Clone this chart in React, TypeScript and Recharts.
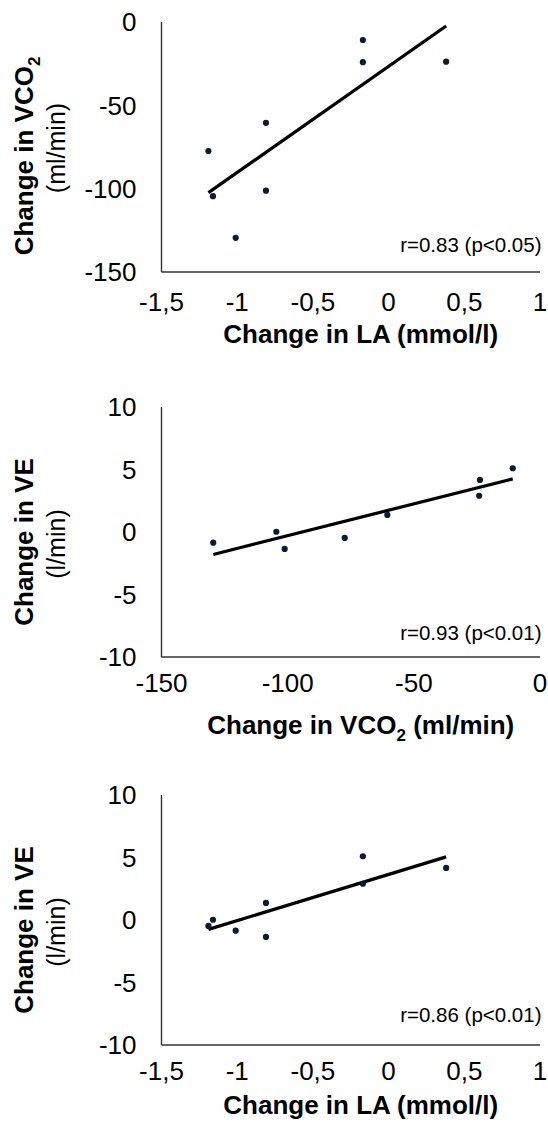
import React from "react";
import {
  Customized,
  ReferenceLine,
  Scatter,
  ScatterChart,
  XAxis,
  YAxis,
} from "recharts";

const FONT = "'Liberation Sans', Arial, sans-serif";

// per-subject changes
const laChange = [-1.19, -1.16, -1.01, -0.81, -0.81, -0.17, -0.17, 0.38];
const vco2Change = [-77.4, -104.5, -129.5, -60.5, -101.2, -10.8, -24.1, -23.8];
const veChange = [-0.47, 0.02, -0.85, 1.37, -1.35, 5.1, 2.9, 4.17];

const laTicks = [-1.5, -1, -0.5, 0, 0.5, 1];
const vco2Ticks = [-150, -100, -50, 0];
const veTicks = [-10, -5, 0, 5, 10];

// regression lines (start / end), as drawn in the figure
const fitLaVco2 = [
  { x: -1.19, y: -102.4 },
  { x: 0.38, y: -2.4 },
];
const fitVco2Ve = [
  { x: -129.5, y: -1.8 },
  { x: -10.8, y: 4.25 },
];
const fitLaVe = [
  { x: -1.19, y: -0.75 },
  { x: 0.38, y: 5.05 },
];

const stats = ["r=0.83 (p<0.05)", "r=0.93 (p<0.01)", "r=0.86 (p<0.01)"];

const pairs = (xs: number[], ys: number[]) =>
  xs.map((x, i) => ({ x, y: ys[i] }));

const comma = (v: number) => String(v).replace(".", ",");

const Dot = (props: any) => (
  <circle cx={props.cx} cy={props.cy} r={3.1} fill="#0c1a33" />
);

const Sub = ({ text, after }: { text: string; after?: string }) => (
  <>
    <tspan>{text}</tspan>
    <tspan fontSize={17} dy={7}>
      2
    </tspan>
    {after ? <tspan dy={-7}>{after}</tspan> : null}
  </>
);

type PanelProps = {
  top: number;
  height: number;
  data: { x: number; y: number }[];
  fit: { x: number; y: number }[];
  xDomain: [number, number];
  xTicks: number[];
  yDomain: [number, number];
  yTicks: number[];
  xTitle: React.ReactNode;
  yTitle: React.ReactNode;
  yUnit: string;
  stat: string;
  tickGap: number;
  titleDy: number;
  yLine1Dy: number;
  yLine2Dy: number;
  statDy: number;
};

const PLOT_TOP = 22;
const PLOT_H = 250;
const AXIS_W = 161.5;

const Panel = (p: PanelProps) => {
  const axisStyle = { stroke: "#333", strokeWidth: 1.4 };
  const tickStyle = { fill: "#000", fontSize: 26, fontFamily: FONT };
  return (
    <div style={{ position: "absolute", left: 0, top: p.top }}>
      <ScatterChart
        width={548}
        height={p.height}
        margin={{ top: PLOT_TOP, right: 8, bottom: 0, left: 0 }}
        style={{ fontFamily: FONT }}
      >
        <XAxis
          type="number"
          dataKey="x"
          domain={p.xDomain}
          ticks={p.xTicks}
          interval={0}
          height={p.height - PLOT_TOP - PLOT_H}
          tickFormatter={comma}
          tickLine={false}
          axisLine={axisStyle}
          tickMargin={p.tickGap}
          tick={tickStyle}
          label={{
            content: (lp: any) => {
              const vb = lp.viewBox;
              return (
                <text
                  x={vb.x + vb.width / 2 + 10}
                  y={vb.y + p.titleDy}
                  textAnchor="middle"
                  fontSize={26}
                  fontWeight="bold"
                  fontFamily={FONT}
                  fill="#000"
                >
                  {p.xTitle}
                </text>
              );
            },
          }}
        />
        <YAxis
          type="number"
          dataKey="y"
          domain={p.yDomain}
          ticks={p.yTicks}
          interval={0}
          width={AXIS_W}
          tickLine={false}
          axisLine={axisStyle}
          tickMargin={19}
          tick={tickStyle}
          label={{
            content: (lp: any) => {
              const vb = lp.viewBox;
              const cy = vb.y + vb.height / 2;
              return (
                <g>
                  <text
                    transform={`translate(33, ${cy + p.yLine1Dy}) rotate(-90)`}
                    textAnchor="middle"
                    fontSize={26}
                    fontWeight="bold"
                    fontFamily={FONT}
                    fill="#000"
                  >
                    {p.yTitle}
                  </text>
                  <text
                    transform={`translate(65, ${cy + p.yLine2Dy}) rotate(-90)`}
                    textAnchor="middle"
                    fontSize={25}
                    fontFamily={FONT}
                    fill="#000"
                  >
                    {p.yUnit}
                  </text>
                </g>
              );
            },
          }}
        />
        <ReferenceLine
          segment={p.fit}
          stroke="#000"
          strokeWidth={3.2}
          ifOverflow="visible"
        />
        <Scatter data={p.data} shape={Dot} isAnimationActive={false} />
        <Customized
          component={() => (
            <text
              x={541.5}
              y={PLOT_TOP + PLOT_H - p.statDy}
              textAnchor="end"
              fontSize={20.5}
              fontFamily={FONT}
              fill="#000"
            >
              {p.stat}
            </text>
          )}
        />
      </ScatterChart>
    </div>
  );
};

export default function App() {
  return (
    <div
      style={{
        position: "absolute",
        left: 0,
        top: 0,
        width: 548,
        height: 1132,
        background: "#fff",
      }}
    >
      <Panel
        top={0}
        height={350}
        data={pairs(laChange, vco2Change)}
        fit={fitLaVco2}
        xDomain={[-1.5, 1]}
        xTicks={laTicks}
        yDomain={[-150, 0]}
        yTicks={vco2Ticks}
        xTitle="Change in LA (mmol/l)"
        yTitle={<Sub text="Change in VCO" />}
        yUnit="(ml/min)"
        stat={stats[0]}
        tickGap={15}
        titleDy={71}
        yLine1Dy={9}
        yLine2Dy={1}
        statDy={20}
      />
      <Panel
        top={384.7}
        height={380}
        data={pairs(vco2Change, veChange)}
        fit={fitVco2Ve}
        xDomain={[-150, 0]}
        xTicks={vco2Ticks}
        yDomain={[-10, 10]}
        yTicks={veTicks}
        xTitle={<Sub text="Change in VCO" after=" (ml/min)" />}
        yTitle="Change in VE"
        yUnit="(l/min)"
        stat={stats[1]}
        tickGap={11}
        titleDy={77}
        yLine1Dy={10}
        yLine2Dy={12}
        statDy={17}
      />
      <Panel
        top={773}
        height={359}
        data={pairs(laChange, veChange)}
        fit={fitLaVe}
        xDomain={[-1.5, 1]}
        xTicks={laTicks}
        yDomain={[-10, 10]}
        yTicks={veTicks}
        xTitle="Change in LA (mmol/l)"
        yTitle="Change in VE"
        yUnit="(l/min)"
        stat={stats[2]}
        tickGap={11}
        titleDy={69}
        yLine1Dy={10}
        yLine2Dy={12}
        statDy={23}
      />
    </div>
  );
}
